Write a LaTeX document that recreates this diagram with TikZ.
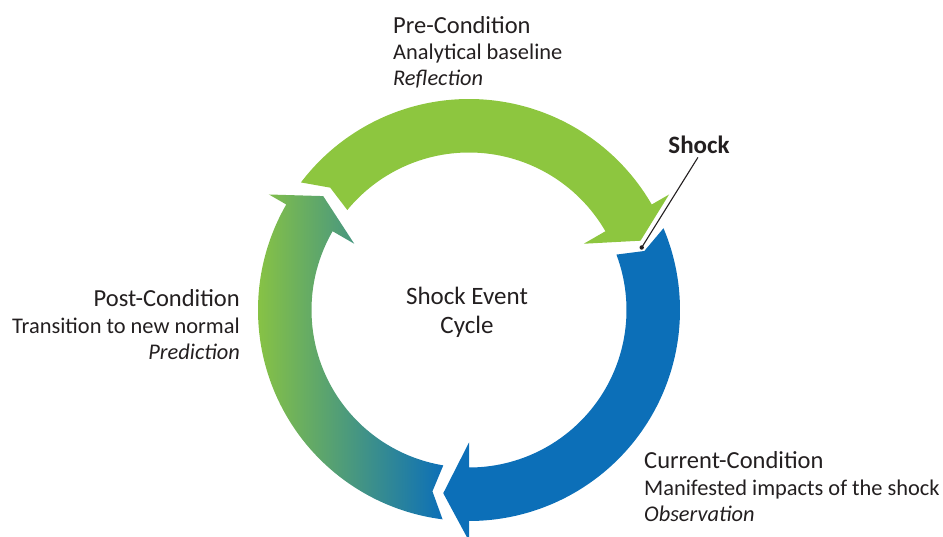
\documentclass[tikz,border=0pt]{standalone}
\usepackage{fontspec}
\setmainfont{Carlito}
\definecolor{ringgreen}{RGB}{141,198,63}
\definecolor{ringblue}{RGB}{12,111,184}
\definecolor{textgray}{RGB}{35,31,32}

% One ring segment: tail notch at junction #1, arrow head at junction #2
% (angles in degrees, running clockwise from #1 to #2).
\newcommand\cyclearrow[2]{%
  ({#1-7.2}:211) arc[start angle={#1-7.2}, end angle={#2}, radius=211pt]
  -- ({#2}:231) -- ({#2-8}:185) -- ({#2}:132.5) -- ({#2}:157.5)
  arc[start angle={#2}, end angle={#1-9.4}, radius=157.5pt]
  -- ({#1-11.4}:185) -- cycle}

\begin{document}
\begin{tikzpicture}[x=1pt,y=1pt,
  txt/.style={text=textgray, inner sep=0pt},
  title/.style={txt, font=\fontsize{24.5}{29}\selectfont},
  body/.style={txt, font=\fontsize{22.4}{27}\selectfont},
  note/.style={txt, font=\fontsize{22.4}{27}\selectfont\itshape},
  centre/.style={txt, font=\fontsize{25}{30}\selectfont},
  shocklabel/.style={txt, font=\fontsize{25}{30}\selectfont\bfseries, inner sep=2pt}]
\useasboundingbox (0,0) rectangle (943,536);

% the three arrows of the cycle
\begin{scope}[shift={(469,226)}]
  \fill[ringgreen] \cyclearrow{150}{30};
  \fill[ringblue] \cyclearrow{30}{-90};
  \shade[left color=ringgreen, right color=ringblue] \cyclearrow{270}{150};
\end{scope}

% centre title
\node[centre, anchor=base] (cyc1) at (467,231) {Shock Event};
\node[centre, anchor=base] (cyc2) at (467,202.7) {Cycle};

% pre-condition
\node[title, anchor=base west] (pre1) at (393,502.7) {Pre-Condition};
\node[body, anchor=base west] (pre2) at (393,476.5) {Analytical baseline};
\node[note, anchor=base west] (pre3) at (393,450.5) {Reflection};

% current condition
\node[title, anchor=base west] (cur1) at (644,67.7) {Current-Condition};
\node[body, anchor=base west] (cur2) at (644,41) {Manifested impacts of the shock};
\node[note, anchor=base west] (cur3) at (644,14.3) {Observation};

% post-condition
\node[title, anchor=base east] (post1) at (240,229.3) {Post-Condition};
\node[body, anchor=base east] (post2) at (240,202.7) {Transition to new normal};
\node[note, anchor=base east] (post3) at (240,176) {Prediction};

% shock marker
\coordinate (shockpt) at (641.7,288.5);
\node[shocklabel, anchor=base] (shock) at (699,382.7) {Shock};
\draw[textgray, line width=1.1pt, shorten <=2pt] (shock.south) -- (shockpt);
\fill[textgray] (shockpt) circle[radius=2.2pt];
\end{tikzpicture}
\end{document}
